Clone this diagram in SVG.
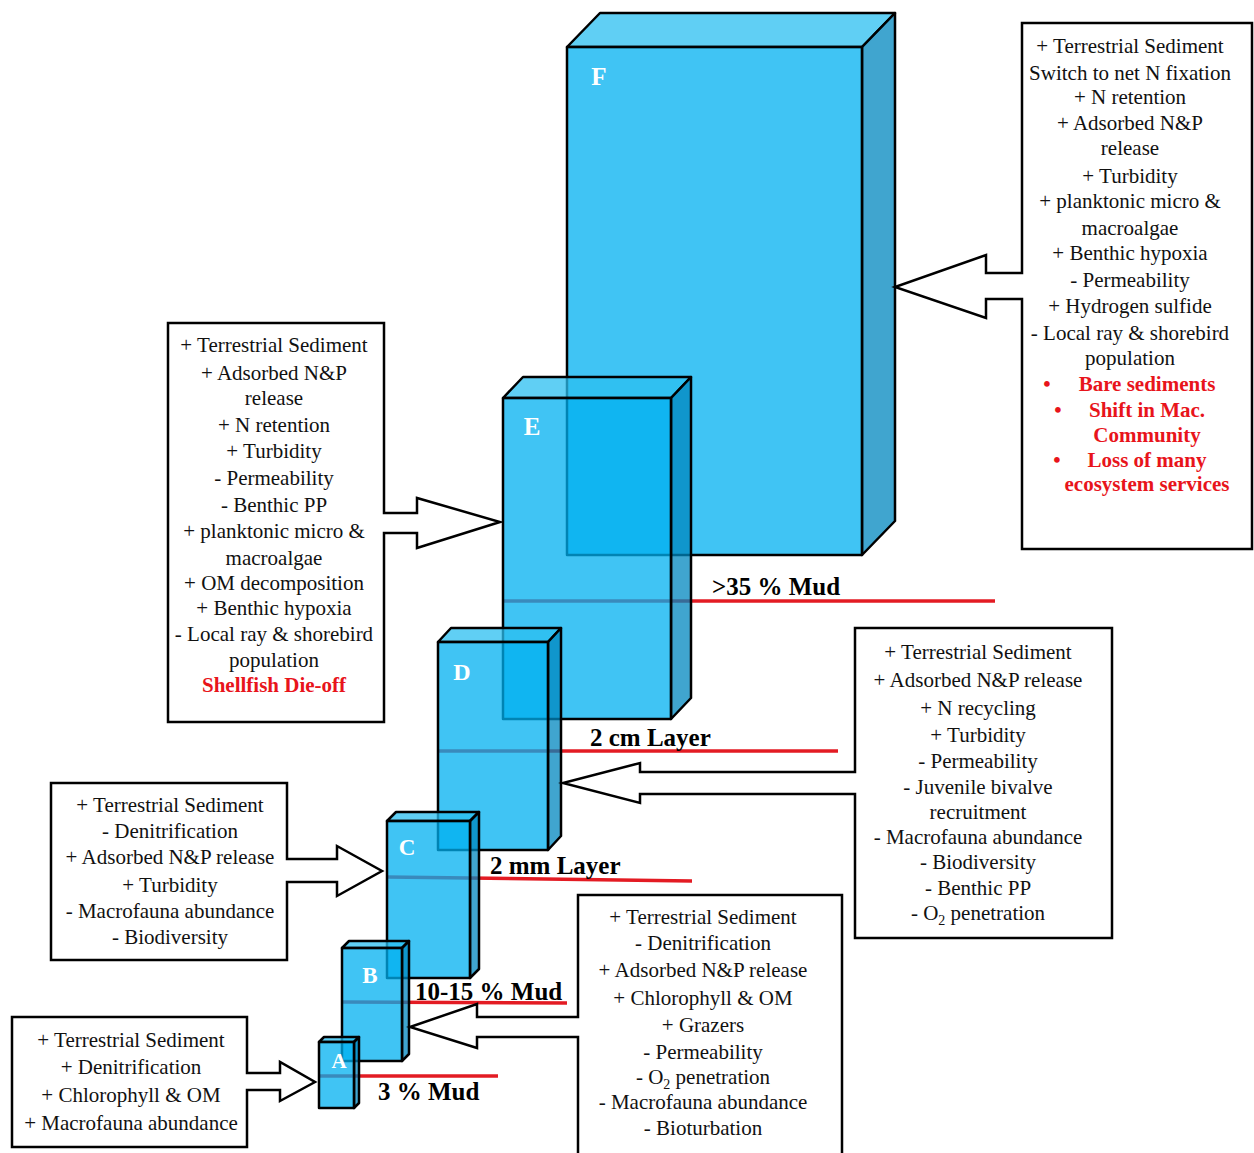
<svg xmlns="http://www.w3.org/2000/svg" width="1254" height="1153" viewBox="0 0 1254 1153">
<style>
  .bg { fill: #ffffff; }
  .front { fill: #00B0F0; fill-opacity: 0.75; stroke: #000; stroke-width: 2.5; stroke-linejoin: round; }
  .top { fill: #2BBFF0; fill-opacity: 0.75; stroke: #000; stroke-width: 2.5; stroke-linejoin: round; }
  .side { fill: #0087BF; fill-opacity: 0.75; stroke: #000; stroke-width: 2.5; stroke-linejoin: round; }
  .letter { font-family: "Liberation Serif", "Times New Roman", serif; font-weight: bold; fill: #ffffff; text-anchor: middle; }
  .mud { stroke: #E31B23; stroke-width: 3.5; fill: none; }
  .mudlabel { font-family: "Liberation Serif", "Times New Roman", serif; font-weight: bold; font-size: 25px; fill: #000; }
  .box { fill: #ffffff; stroke: #000; stroke-width: 2.5; stroke-linejoin: miter; }
  .t { font-family: "Liberation Serif", "Times New Roman", serif; font-size: 21px; fill: #111; text-anchor: middle; }
  .r { font-family: "Liberation Serif", "Times New Roman", serif; font-size: 21px; font-weight: bold; fill: #E8141B; text-anchor: middle; }
</style>
<rect class="bg" x="0" y="0" width="1254" height="1153"/>

<g id="mud-lines">
  <line class="mud" x1="319" y1="1076" x2="498" y2="1076"/>
  <line class="mud" x1="342" y1="1002" x2="567" y2="1003"/>
  <line class="mud" x1="387" y1="877" x2="692" y2="881"/>
  <line class="mud" x1="438" y1="751" x2="838" y2="751"/>
  <line class="mud" x1="503" y1="601" x2="995" y2="601"/>
</g>

<g id="cube-F">
  <polygon class="top" points="567,47 600,13 895,13 862,47"/>
  <polygon class="side" points="862,47 895,13 895,521 862,555"/>
  <rect class="front" x="567" y="47" width="295" height="508"/>
  <text class="letter" x="599" y="85" font-size="25">F</text>
</g>
<g id="cube-E">
  <polygon class="top" points="503,398 523,377 691,377 671,398"/>
  <polygon class="side" points="671,398 691,377 691,698 671,719"/>
  <rect class="front" x="503" y="398" width="168" height="321"/>
  <text class="letter" x="532" y="435" font-size="25">E</text>
</g>
<g id="cube-D">
  <polygon class="top" points="438,642 451,628 561,628 548,642"/>
  <polygon class="side" points="548,642 561,628 561,836 548,850"/>
  <rect class="front" x="438" y="642" width="110" height="208"/>
  <text class="letter" x="462" y="680" font-size="24">D</text>
</g>
<g id="cube-C">
  <polygon class="top" points="387,821 396,812 479,812 470,821"/>
  <polygon class="side" points="470,821 479,812 479,969 470,978"/>
  <rect class="front" x="387" y="821" width="83" height="157"/>
  <text class="letter" x="407" y="855" font-size="23">C</text>
</g>
<g id="cube-B">
  <polygon class="top" points="342,948 349,941 409,941 402,948"/>
  <polygon class="side" points="402,948 409,941 409,1054 402,1061"/>
  <rect class="front" x="342" y="948" width="60" height="113"/>
  <text class="letter" x="370" y="983" font-size="23">B</text>
</g>
<g id="cube-A">
  <polygon class="top" points="319,1042 324,1037 359,1037 354,1042"/>
  <polygon class="side" points="354,1042 359,1037 359,1103 354,1108"/>
  <rect class="front" x="319" y="1042" width="35" height="66"/>
  <text class="letter" x="339" y="1068" font-size="21">A</text>
</g>

<g id="mud-labels">
  <text class="mudlabel" x="378" y="1100">3 % Mud</text>
  <text class="mudlabel" x="415" y="1000">10-15 % Mud</text>
  <text class="mudlabel" x="490" y="874">2 mm Layer</text>
  <text class="mudlabel" x="590" y="746">2 cm Layer</text>
  <text class="mudlabel" x="712" y="595">&gt;35 % Mud</text>
</g>

<g id="connectors">
  <path class="box" d="M12,1017 H247 V1073 H280 V1062 L315,1082 L280,1101 V1090 H247 V1147 H12 Z"/>
  <path class="box" d="M51,783 H287 V859 H337 V846 L382,871 L337,896 V882 H287 V960 H51 Z"/>
  <path class="box" d="M168,323 H384 V513 H417 V498 L500,522 L417,548 V533 H384 V722 H168 Z"/>
  <path class="box" d="M1022,23 H1252 V549 H1022 V299 H986 V318 L895,287 L986,255 V273 H1022 Z"/>
  <path class="box" d="M855,628 H1112 V938 H855 V794 H640 V803 L563,783 L640,763 V772 H855 Z"/>
  <path class="box" d="M578,895 H842 V1160 H578 V1037 H477 V1048 L410,1027 L477,1004 V1017 H578 Z"/>
</g>

<g id="box-A">
  <text class="t" x="131" y="1047">+ Terrestrial Sediment</text>
  <text class="t" x="131" y="1074">+ Denitrification</text>
  <text class="t" x="131" y="1102">+ Chlorophyll &amp; OM</text>
  <text class="t" x="131" y="1130">+ Macrofauna abundance</text>
</g>

<g id="box-B">
  <text class="t" x="703" y="924">+ Terrestrial Sediment</text>
  <text class="t" x="703" y="950">- Denitrification</text>
  <text class="t" x="703" y="977">+ Adsorbed N&amp;P release</text>
  <text class="t" x="703" y="1005">+ Chlorophyll &amp; OM</text>
  <text class="t" x="703" y="1032">+ Grazers</text>
  <text class="t" x="703" y="1059">- Permeability</text>
  <text class="t" x="703" y="1084">- O<tspan font-size="14" dy="5">2</tspan><tspan dy="-5"> penetration</tspan></text>
  <text class="t" x="703" y="1109">- Macrofauna abundance</text>
  <text class="t" x="703" y="1135">- Bioturbation</text>
</g>

<g id="box-C">
  <text class="t" x="170" y="812">+ Terrestrial Sediment</text>
  <text class="t" x="170" y="838">- Denitrification</text>
  <text class="t" x="170" y="864">+ Adsorbed N&amp;P release</text>
  <text class="t" x="170" y="892">+ Turbidity</text>
  <text class="t" x="170" y="918">- Macrofauna abundance</text>
  <text class="t" x="170" y="944">- Biodiversity</text>
</g>

<g id="box-D">
  <text class="t" x="978" y="659">+ Terrestrial Sediment</text>
  <text class="t" x="978" y="687">+ Adsorbed N&amp;P release</text>
  <text class="t" x="978" y="715">+ N recycling</text>
  <text class="t" x="978" y="742">+ Turbidity</text>
  <text class="t" x="978" y="768">- Permeability</text>
  <text class="t" x="978" y="794">- Juvenile bivalve</text>
  <text class="t" x="978" y="819">recruitment</text>
  <text class="t" x="978" y="844">- Macrofauna abundance</text>
  <text class="t" x="978" y="869">- Biodiversity</text>
  <text class="t" x="978" y="895">- Benthic PP</text>
  <text class="t" x="978" y="920">- O<tspan font-size="14" dy="5">2</tspan><tspan dy="-5"> penetration</tspan></text>
</g>

<g id="box-E">
  <text class="t" x="274" y="352">+ Terrestrial Sediment</text>
  <text class="t" x="274" y="380">+ Adsorbed N&amp;P</text>
  <text class="t" x="274" y="405">release</text>
  <text class="t" x="274" y="432">+ N retention</text>
  <text class="t" x="274" y="458">+ Turbidity</text>
  <text class="t" x="274" y="485">- Permeability</text>
  <text class="t" x="274" y="512">- Benthic PP</text>
  <text class="t" x="274" y="538">+ planktonic micro &amp;</text>
  <text class="t" x="274" y="565">macroalgae</text>
  <text class="t" x="274" y="590">+ OM decomposition</text>
  <text class="t" x="274" y="615">+ Benthic hypoxia</text>
  <text class="t" x="274" y="641">- Local ray &amp; shorebird</text>
  <text class="t" x="274" y="667">population</text>
  <text class="r" x="274" y="692">Shellfish Die-off</text>
</g>

<g id="box-F">
  <text class="t" x="1130" y="53">+ Terrestrial Sediment</text>
  <text class="t" x="1130" y="80">Switch to net N fixation</text>
  <text class="t" x="1130" y="104">+ N retention</text>
  <text class="t" x="1130" y="130">+ Adsorbed N&amp;P</text>
  <text class="t" x="1130" y="155">release</text>
  <text class="t" x="1130" y="183">+ Turbidity</text>
  <text class="t" x="1130" y="208">+ planktonic micro &amp;</text>
  <text class="t" x="1130" y="235">macroalgae</text>
  <text class="t" x="1130" y="260">+ Benthic hypoxia</text>
  <text class="t" x="1130" y="287">- Permeability</text>
  <text class="t" x="1130" y="313">+ Hydrogen sulfide</text>
  <text class="t" x="1130" y="340">- Local ray &amp; shorebird</text>
  <text class="t" x="1130" y="365">population</text>
  <text class="r" x="1047" y="391">•</text>
  <text class="r" x="1147" y="391">Bare sediments</text>
  <text class="r" x="1058" y="417">•</text>
  <text class="r" x="1147" y="417">Shift in Mac.</text>
  <text class="r" x="1147" y="442">Community</text>
  <text class="r" x="1057" y="467">•</text>
  <text class="r" x="1147" y="467">Loss of many</text>
  <text class="r" x="1147" y="491">ecosystem services</text>
</g>
</svg>
